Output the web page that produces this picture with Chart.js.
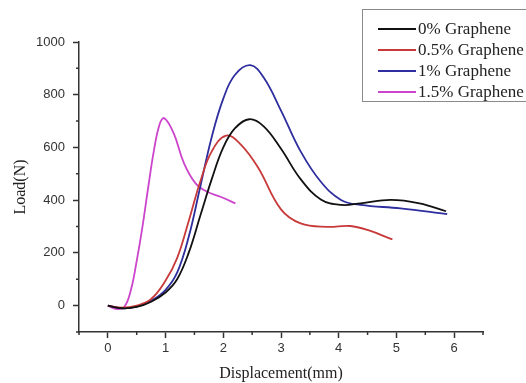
<!DOCTYPE html>
<html>
<head>
<meta charset="utf-8">
<script src="https://cdn.jsdelivr.net/npm/chart.js@4/dist/chart.umd.min.js"></script>
<style>
  body { margin: 0; background: #fff; }
  canvas { display: block; }
</style>
</head>
<body>
<canvas id="chart" width="526" height="383"></canvas>
<script>
// series names + colours
const labels = ['0% Graphene', '0.5% Graphene', '1% Graphene', '1.5% Graphene'];
const colors = ['#111111', '#c83a3a', '#2e2e9e', '#cc44cc'];

// displacement (mm) / load (N)
const x0 = [0, 0.25, 0.5, 0.75, 1.0, 1.2, 1.4, 1.6, 1.8, 2.0, 2.2, 2.45, 2.7, 3.0, 3.34, 3.69, 4.04, 4.38, 4.9, 5.4, 5.86];
const y0 = [0, -10, -5, 15, 50, 100, 200, 340, 480, 600, 672, 707, 680, 595, 480, 403, 382, 388, 401, 388, 358];

const x05 = [0, 0.25, 0.5, 0.75, 1.0, 1.2, 1.4, 1.6, 1.8, 2.05, 2.3, 2.6, 3.0, 3.34, 3.8, 4.2, 4.5, 4.93];
const y05 = [0, -8, 0, 25, 95, 180, 320, 470, 585, 645, 612, 525, 365, 312, 299, 302, 287, 251];

const x1 = [0, 0.25, 0.5, 0.75, 1.0, 1.2, 1.4, 1.6, 1.8, 2.0, 2.2, 2.47, 2.7, 3.0, 3.34, 3.69, 4.04, 4.38, 5.07, 5.88];
const y1 = [0, -10, -4, 18, 60, 125, 260, 450, 640, 785, 875, 912, 865, 740, 585, 470, 401, 382, 369, 347];

const x15 = [0, 0.13, 0.28, 0.4, 0.5, 0.6, 0.7, 0.8, 0.9, 0.98, 1.14, 1.32, 1.52, 1.72, 1.95, 2.21];
const y15 = [0, -12, -6, 60, 170, 300, 450, 591, 690, 711, 654, 540, 464, 432, 413, 388];

const xTicks = [0, 1, 2, 3, 4, 5, 6];
const yTicks = [0, 200, 400, 600, 800, 1000];
const xMinor = [-0.5, 0.5, 1.5, 2.5, 3.5, 4.5, 5.5, 6.5];
const yMinor = [-100, 100, 300, 500, 700, 900];

function pts(xs, ys) {
  return xs.map((x, i) => ({ x: x, y: ys[i] }));
}

const series = [[x0, y0], [x05, y05], [x1, y1], [x15, y15]];

// short ticks between the labelled ones
const minorTicks = {
  id: 'minorTicks',
  afterDraw(chart) {
    const ctx = chart.ctx, xs = chart.scales.x, ys = chart.scales.y;
    ctx.save();
    ctx.strokeStyle = '#333';
    ctx.lineWidth = 1.5;
    ctx.beginPath();
    xMinor.forEach(v => {
      const p = xs.getPixelForValue(v);
      ctx.moveTo(p, xs.top);
      ctx.lineTo(p, xs.top + 3);
    });
    yMinor.forEach(v => {
      const p = ys.getPixelForValue(v);
      ctx.moveTo(ys.right, p);
      ctx.lineTo(ys.right - 3, p);
    });
    ctx.stroke();
    ctx.restore();
  }
};

// framed legend in the top right corner
const boxLegend = {
  id: 'boxLegend',
  afterDraw(chart) {
    const ctx = chart.ctx;
    ctx.save();
    ctx.strokeStyle = '#8a8a8a';
    ctx.lineWidth = 1;
    ctx.strokeRect(362.5, 9.5, 180, 92);
    ctx.font = '17px "Liberation Serif"';
    ctx.textBaseline = 'middle';
    ctx.fillStyle = '#222';
    chart.data.datasets.forEach((ds, i) => {
      const y = 29 + i * 21;
      ctx.strokeStyle = ds.borderColor;
      ctx.lineWidth = 2;
      ctx.beginPath();
      ctx.moveTo(378, y);
      ctx.lineTo(416, y);
      ctx.stroke();
      ctx.fillText(ds.label, 418, y + 1);
    });
    ctx.restore();
  }
};

new Chart(document.getElementById('chart'), {
  type: 'line',
  data: {
    datasets: series.map((s, i) => ({
      label: labels[i],
      data: pts(s[0], s[1]),
      borderColor: colors[i],
      borderWidth: 1.8,
      pointRadius: 0,
      fill: false,
      tension: 0.4
    }))
  },
  options: {
    responsive: false,
    animation: false,
    devicePixelRatio: 1,
    layout: { padding: { top: 42, right: 43, left: 0, bottom: 0 } },
    plugins: {
      legend: { display: false },
      tooltip: { enabled: false }
    },
    scales: {
      x: {
        type: 'linear',
        min: -0.5,
        max: 6.5,
        afterBuildTicks: s => { s.ticks = xTicks.map(v => ({ value: v })); },
        afterFit: s => { s.height = 51; },
        grid: { drawOnChartArea: false, tickLength: 6, tickColor: '#333', tickWidth: 1.5 },
        border: { color: '#333', width: 1.5 },
        ticks: { color: '#333', font: { family: 'Liberation Sans', size: 13 }, padding: 3, maxRotation: 0, autoSkip: false, callback: v => String(v) },
        title: { display: true, text: 'Displacement(mm)', color: '#222', font: { family: 'Liberation Serif', size: 16 }, padding: { top: 0, bottom: 0 } }
      },
      y: {
        min: -100,
        max: 1000,
        afterBuildTicks: s => { s.ticks = yTicks.map(v => ({ value: v })); },
        afterFit: s => { s.width = 79; },
        grid: { drawOnChartArea: false, tickLength: 6, tickColor: '#333', tickWidth: 1.5 },
        border: { color: '#333', width: 1.5 },
        ticks: { color: '#333', font: { family: 'Liberation Sans', size: 13 }, padding: 8, callback: v => String(v) },
        title: { display: true, text: 'Load(N)', color: '#222', font: { family: 'Liberation Serif', size: 16 }, padding: { top: 11, bottom: 0 } }
      }
    }
  },
  plugins: [minorTicks, boxLegend]
});
</script>
</body>
</html>
